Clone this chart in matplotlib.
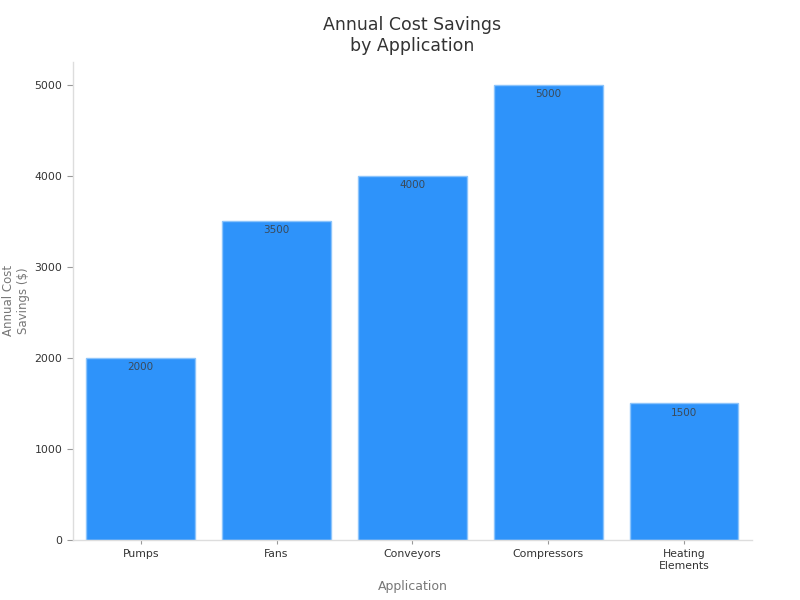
import matplotlib
matplotlib.use("Agg")
import matplotlib.pyplot as plt

# Data
categories = ["Pumps", "Fans", "Conveyors", "Compressors", "Heating\nElements"]
savings = [2000, 3500, 4000, 5000, 1500]

BAR_COLOR = "#2e93fa"
EDGE_COLOR = "#8cc4fb"
TEXT_COLOR = "#333333"
LABEL_COLOR = "#777777"
SPINE_COLOR = "#dddddd"

fig = plt.figure(figsize=(8, 6), dpi=100)
ax = fig.add_axes([0.091, 0.10, 0.849, 0.797])

x = list(range(len(categories)))
bars = ax.bar(x, savings, width=0.8, color=BAR_COLOR,
              edgecolor=EDGE_COLOR, linewidth=1.0)

# value labels just inside the top of each bar
for rect, v in zip(bars, savings):
    ax.annotate(f"{v}", (rect.get_x() + rect.get_width() / 2, v),
                xytext=(0, -3), textcoords="offset points",
                ha="center", va="top", fontsize=7.5, color="#3a4a5a")

ax.set_xlim(-0.5, len(categories) - 0.5)
ax.set_ylim(0, 5250)
ax.set_yticks([0, 1000, 2000, 3000, 4000, 5000])
ax.set_xticks(x)
ax.set_xticklabels(categories, fontsize=7.8, color=TEXT_COLOR)
ax.tick_params(axis="y", labelsize=7.8, labelcolor=TEXT_COLOR,
               color="#999999", length=4, width=0.8)
ax.tick_params(axis="x", color="#999999", length=3, width=0.8)

for side in ("top", "right"):
    ax.spines[side].set_visible(False)
for side in ("left", "bottom"):
    ax.spines[side].set_color(SPINE_COLOR)
    ax.spines[side].set_linewidth(1.0)

ax.set_xlabel("Application", fontsize=9, color=LABEL_COLOR)
ax.xaxis.set_label_coords(0.5, -0.083)
ax.set_ylabel("Annual Cost\nSavings ($)", fontsize=8.5, color=LABEL_COLOR)
ax.yaxis.set_label_coords(-0.063, 0.5)
ax.set_title("Annual Cost Savings\nby Application", fontsize=12.5,
             color=TEXT_COLOR, pad=8)

fig.savefig("out.png", dpi=100)
